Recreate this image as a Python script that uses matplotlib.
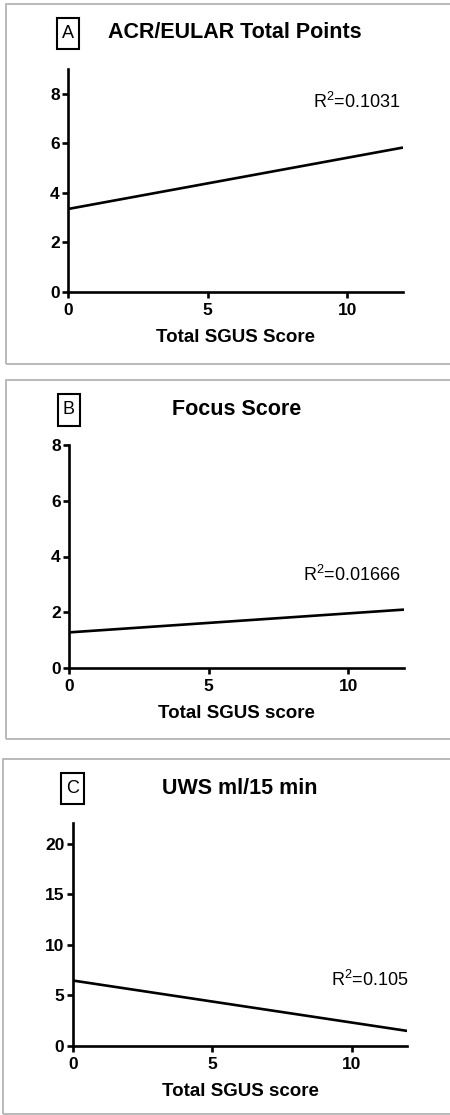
import matplotlib
matplotlib.use("Agg")
import matplotlib.pyplot as plt
from matplotlib.patches import Rectangle

plt.rcParams['font.family'] = ['Liberation Sans', 'DejaVu Sans']
plt.rcParams['mathtext.fontset'] = 'custom'
plt.rcParams['mathtext.rm'] = 'Liberation Sans'
plt.rcParams['mathtext.it'] = 'Liberation Sans'

# regression lines: value at x=0 and at x=12
panel_letters = ["A", "B", "C"]
panel_titles = ["ACR/EULAR Total Points", "Focus Score", "UWS ml/15 min"]
x_labels = ["Total SGUS Score", "Total SGUS score", "Total SGUS score"]
r2_labels = ["0.1031", "0.01666", "0.105"]
line_x = [0, 12]
line_a = [3.35, 5.83]
line_b = [1.27, 2.09]
line_c = [6.47, 1.49]
y_max = [9, 8, 22]
y_ticks = [[0, 2, 4, 6, 8], [0, 2, 4, 6, 8], [0, 5, 10, 15, 20]]
x_ticks = [0, 5, 10]

W, H = 450, 1115
fig = plt.figure(figsize=(W / 100, H / 100), dpi=100)


def fx(px):
    return px / W


def fy(py):
    return 1 - py / H


# panel layout in pixels: axes (left, right, top, bottom), frame (left, top, bottom),
# letter box (left, right, top, bottom), title centre, r2 text (right, centre y),
# x label centre y
layout = [
    dict(ax=(68, 403, 69, 292), frame=(6, 4, 364), box=(57, 79, 18, 49),
         title=(235, 33), r2=(400, 102), xl=338),
    dict(ax=(69, 404, 445.3, 667.7), frame=(6, 380, 739), box=(58, 80, 394, 426),
         title=(237, 409), r2=(401, 575), xl=713),
    dict(ax=(72.7, 407.3, 823.3, 1046), frame=(3, 759, 1114), box=(61, 84, 773, 804),
         title=(240, 788), r2=(408, 980), xl=1092),
]
lines = [line_a, line_b, line_c]

for i, lay in enumerate(layout):
    fl, ft, fb = lay["frame"]
    fig.patches.append(Rectangle((fx(fl), fy(fb)), fx(W + 20 - fl), fy(ft) - fy(fb),
                                 transform=fig.transFigure, fill=False,
                                 edgecolor='#b4b4b4', linewidth=1.3))

    l, r, t, b = lay["ax"]
    ax = fig.add_axes([fx(l), fy(b), fx(r - l), fy(t) - fy(b)])
    ax.plot(line_x, lines[i], color='black', linewidth=1.9, solid_capstyle='butt')
    ax.set_xlim(0, 12)
    ax.set_ylim(0, y_max[i])
    ax.set_xticks(x_ticks)
    ax.set_yticks(y_ticks[i])
    for s in ['top', 'right']:
        ax.spines[s].set_visible(False)
    for s in ['left', 'bottom']:
        ax.spines[s].set_linewidth(1.9)
    ax.tick_params(direction='out', length=4, width=1.9, labelsize=12.5)
    ax.tick_params(axis='y', pad=2)
    ax.tick_params(axis='x', pad=4)
    for lab in ax.get_xticklabels() + ax.get_yticklabels():
        lab.set_fontweight('bold')
    ax.patch.set_alpha(0)

    fig.text(fx((l + r) / 2), fy(lay["xl"]), x_labels[i], fontsize=13.5,
             fontweight='bold', ha='center', va='center')

    bl, br, bt, bb = lay["box"]
    fig.patches.append(Rectangle((fx(bl), fy(bb)), fx(br - bl), fy(bt) - fy(bb),
                                 transform=fig.transFigure, fill=False,
                                 edgecolor='black', linewidth=1.5))
    fig.text(fx((bl + br) / 2), fy((bt + bb) / 2), panel_letters[i], fontsize=13,
             ha='center', va='center')

    tx, ty = lay["title"]
    fig.text(fx(tx), fy(ty), panel_titles[i], fontsize=15.5, fontweight='bold',
             ha='center', va='center')

    rx, ry = lay["r2"]
    fig.text(fx(rx), fy(ry), r'R$^{\mathrm{2}}$=' + r2_labels[i], fontsize=13,
             ha='right', va='center')

fig.savefig("out.png", dpi=100, facecolor='white')
